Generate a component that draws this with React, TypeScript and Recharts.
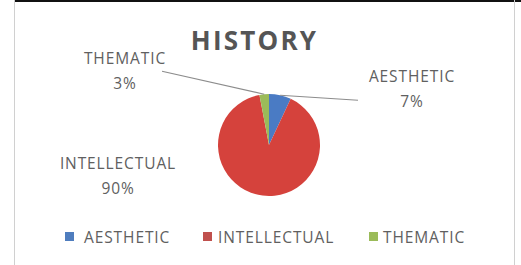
import React from "react";
import { PieChart, Pie, Cell, Legend } from "recharts";

const categories = ["AESTHETIC", "INTELLECTUAL", "THEMATIC"];
const values = [7, 90, 3];
const title = "HISTORY";

const colors = ["#4A7BC4", "#D5423C", "#9BBB59"];
const legendColors = ["#4F7DBE", "#C0504D", "#9BBB59"];

const data = categories.map((name, i) => ({ name, value: values[i] }));

const FONT = "'Open Sans', Lato, sans-serif";
const TEXT = "#606060";

// label placement relative to pie center (layout only)
const labelLayout = [
  { dx: 143, dy: -64, line: true, lx: 89, ly: 5 },
  { dx: -151, dy: 23, line: false, lx: 0, ly: 0 },
  { dx: -144, dy: -82, line: true, lx: -107, ly: -23 },
];

const renderLabel = (props: any) => {
  const { cx, cy, midAngle, outerRadius, index, percent } = props;
  const RAD = Math.PI / 180;
  const lay = labelLayout[index];
  const ex = cx + outerRadius * Math.cos(-midAngle * RAD);
  const ey = cy + outerRadius * Math.sin(-midAngle * RAD);
  const tx = cx + lay.dx;
  const ty = cy + lay.dy;
  const pct = Math.round(percent * 100) + "%";
  const ts = { letterSpacing: "0.9px" };
  return (
    <g key={"lbl" + index}>
      {lay.line && (
        <line
          x1={ex}
          y1={ey}
          x2={cx + lay.lx}
          y2={ey + lay.ly}
          stroke="#8c8c8c"
          strokeWidth={1.2}
        />
      )}
      <text x={tx} y={ty + 1} textAnchor="middle" fill={TEXT} fontFamily={FONT} fontSize={15.5} style={ts}>
        {categories[index]}
      </text>
      <text x={tx} y={ty + 26} textAnchor="middle" fill={TEXT} fontFamily={FONT} fontSize={15.5} style={ts}>
        {pct}
      </text>
    </g>
  );
};

const squareX = [65, 203, 369];
const textX = [84, 218, 383];

const renderLegend = () => (
  <div style={{ position: "relative", width: 521, height: 20 }}>
    {categories.map((c, i) => (
      <React.Fragment key={c}>
        <span
          style={{
            position: "absolute",
            left: squareX[i],
            top: 5,
            width: 9,
            height: 9,
            background: legendColors[i],
          }}
        />
        <span
          style={{
            position: "absolute",
            left: textX[i],
            top: 0,
            fontFamily: FONT,
            fontSize: 15.5,
            letterSpacing: "0.9px",
            lineHeight: "20px",
            color: TEXT,
            whiteSpace: "nowrap",
          }}
        >
          {c}
        </span>
      </React.Fragment>
    ))}
  </div>
);

export default function App() {
  return (
    <div style={{ position: "fixed", left: 0, top: 0, width: 521, height: 265, background: "#fff" }}>
      <div style={{ position: "absolute", left: 14, top: 0, width: 507, height: 2, background: "#111" }} />
      <div style={{ position: "absolute", left: 14, top: 0, width: 1, height: 265, background: "#d0d0d0" }} />
      <div style={{ position: "absolute", left: 514, top: 0, width: 1, height: 265, background: "#d0d0d0" }} />
      <div
        style={{
          position: "absolute",
          left: 0,
          top: 22,
          width: 521,
          textAlign: "center",
          fontFamily: FONT,
          fontWeight: 700,
          fontSize: 26,
          letterSpacing: "2.2px",
          color: "#555555",
          paddingRight: 12,
          boxSizing: "border-box",
        }}
      >
        {title}
      </div>
      <div style={{ position: "absolute", left: 0, top: 0 }}>
        <PieChart width={521} height={265}>
          <Pie
            data={data}
            dataKey="value"
            nameKey="name"
            cx={264}
            cy={140}
            outerRadius={51}
            startAngle={90}
            endAngle={-270}
            stroke="none"
            label={renderLabel}
            labelLine={false}
            isAnimationActive={false}
          >
            {data.map((d, i) => (
              <Cell key={d.name} fill={colors[i]} />
            ))}
          </Pie>
          <Legend
            content={renderLegend}
            wrapperStyle={{ position: "absolute", left: 0, top: 227, width: 521 }}
          />
        </PieChart>
      </div>
    </div>
  );
}
